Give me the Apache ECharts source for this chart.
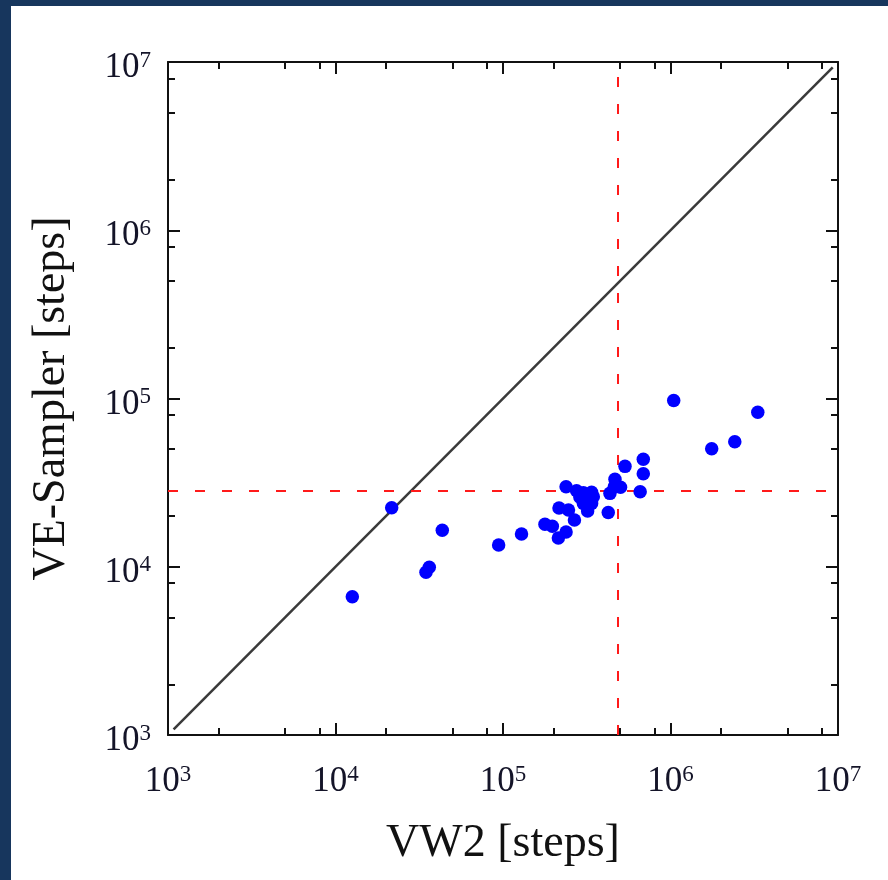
<!DOCTYPE html>
<html><head><meta charset="utf-8">
<script src="https://cdn.jsdelivr.net/npm/echarts@6/dist/echarts.min.js"></script>
<style>html,body{margin:0;padding:0;background:#fff}#c{width:888px;height:880px}</style>
</head><body><div id="c"></div>
<script>
// Data (steps)
const vw2Steps = [1.26e4, 2.165e4, 4.34e4, 3.47e4, 3.63e4, 9.42e4, 1.29e5, 1.78e5, 1.97e5, 2.14e5,
  2.38e5, 2.16e5, 2.46e5, 2.67e5, 2.38e5, 2.75e5, 3.02e5, 3.38e5, 2.88e5, 3.16e5,
  3.46e5, 3.02e5, 3.38e5, 3.2e5, 4.25e5, 4.35e5, 4.66e5, 4.62e5, 5.03e5, 5.35e5,
  6.59e5, 6.88e5, 6.88e5, 1.045e6, 1.762e6, 2.42e6, 3.32e6];
const veSamplerSteps = [6.64e3, 2.244e4, 1.647e4, 9.27e3, 9.93e3, 1.346e4, 1.566e4, 1.788e4, 1.739e4, 1.482e4,
  1.609e4, 2.234e4, 2.174e4, 1.897e4, 2.99e4, 2.83e4, 2.755e4, 2.77e4, 2.587e4, 2.55e4,
  2.61e4, 2.38e4, 2.38e4, 2.145e4, 2.10e4, 2.73e4, 3.31e4, 2.99e4, 2.97e4, 3.95e4,
  2.79e4, 4.36e4, 3.57e4, 9.73e4, 5.03e4, 5.54e4, 8.28e4];
const axisMin = 1e3, axisMax = 1e7;
const majorDecades = [3, 4, 5, 6, 7];
const minorMultipliers = [2, 5, 8];
const diagonalEnds = [1.08e3, 9.3e6];
const thresholdVW2 = 4.86e5;
const thresholdVE = 2.82e4;

const minorLogTicks = [];
majorDecades.slice(0, -1).forEach(d => minorMultipliers.forEach(m => minorLogTicks.push(Math.log10(m) + d)));

const points = vw2Steps.map((x, i) => [x, veSamplerSteps[i]]);
const font = '"Liberation Serif", "DejaVu Serif", serif';
const rich = {
  a: {fontSize: 35, fontFamily: font, color: '#141428', lineHeight: 38},
  b: {fontSize: 23, fontFamily: font, color: '#141428', lineHeight: 22, verticalAlign: 'top'}
};
const fmt = v => '{a|10}{b|' + Math.round(Math.log10(v)) + '}';
const lineBlack = {show: true, lineStyle: {color: '#111', width: 2}};

function logAxis(pos, withLabel, extra) {
  return Object.assign({
    type: 'log', logBase: 10, min: axisMin, max: axisMax, position: pos, splitNumber: 4,
    axisLine: lineBlack,
    axisTick: {show: true, inside: true, length: 12, lineStyle: {color: '#111', width: 2}},
    axisLabel: withLabel ? {show: true, formatter: fmt, rich: rich, showMinLabel: true, showMaxLabel: true} : {show: false},
    splitLine: {show: false}
  }, extra || {});
}
function minorAxis(pos) {
  return {
    type: 'value', min: 3, max: 7, position: pos,
    axisLine: {show: false},
    axisTick: {show: true, inside: true, length: 7, customValues: minorLogTicks, lineStyle: {color: '#111', width: 2}},
    axisLabel: {show: false}, splitLine: {show: false}
  };
}

const chart = echarts.init(document.getElementById('c'), null, {renderer: 'canvas'});
chart.setOption({
  backgroundColor: '#fff',
  animation: false,
  graphic: [
    {type: 'rect', left: 0, top: 0, shape: {width: 888, height: 6}, style: {fill: '#17365d'}, z: 100},
    {type: 'rect', left: 0, top: 0, shape: {width: 11, height: 880}, style: {fill: '#17365d'}, z: 100}
  ],
  grid: {left: 168, top: 62, width: 670, height: 673, containLabel: false},
  xAxis: [
    logAxis('bottom', true, {
      name: 'VW2 [steps]', nameLocation: 'middle', nameGap: 86,
      nameTextStyle: {fontSize: 46, fontFamily: font, color: '#111'},
      axisLabel: {show: true, formatter: fmt, rich: rich, margin: 28, showMinLabel: true, showMaxLabel: true}
    }),
    minorAxis('bottom'),
    logAxis('top', false),
    minorAxis('top')
  ],
  yAxis: [
    logAxis('left', true, {
      name: 'VE-Sampler [steps]', nameLocation: 'middle', nameGap: 93,
      nameTextStyle: {fontSize: 46, fontFamily: font, color: '#111'},
      axisLabel: {show: true, formatter: fmt, rich: rich, margin: 17, padding: [12, 0, 0, 0], showMinLabel: true, showMaxLabel: true}
    }),
    minorAxis('left'),
    logAxis('right', false),
    minorAxis('right')
  ],
  series: [
    {type: 'line', xAxisIndex: 0, yAxisIndex: 0, symbol: 'none', silent: true, z: 2,
      data: diagonalEnds.map(v => [v, v]), lineStyle: {color: '#3a3a3a', width: 2.5}},
    {type: 'line', xAxisIndex: 0, yAxisIndex: 0, symbol: 'none', silent: true, z: 2,
      data: [[thresholdVW2, axisMin], [thresholdVW2, axisMax]], lineStyle: {color: '#ff1a1a', width: 2, type: [10, 17]}},
    {type: 'line', xAxisIndex: 0, yAxisIndex: 0, symbol: 'none', silent: true, z: 2,
      data: [[axisMin, thresholdVE], [axisMax, thresholdVE]], lineStyle: {color: '#ff1a1a', width: 2, type: [10, 17]}},
    {type: 'scatter', xAxisIndex: 0, yAxisIndex: 0, symbol: 'circle', symbolSize: 13.5, z: 5,
      data: points, itemStyle: {color: '#0000ff', opacity: 1}}
  ]
});
</script></body></html>
